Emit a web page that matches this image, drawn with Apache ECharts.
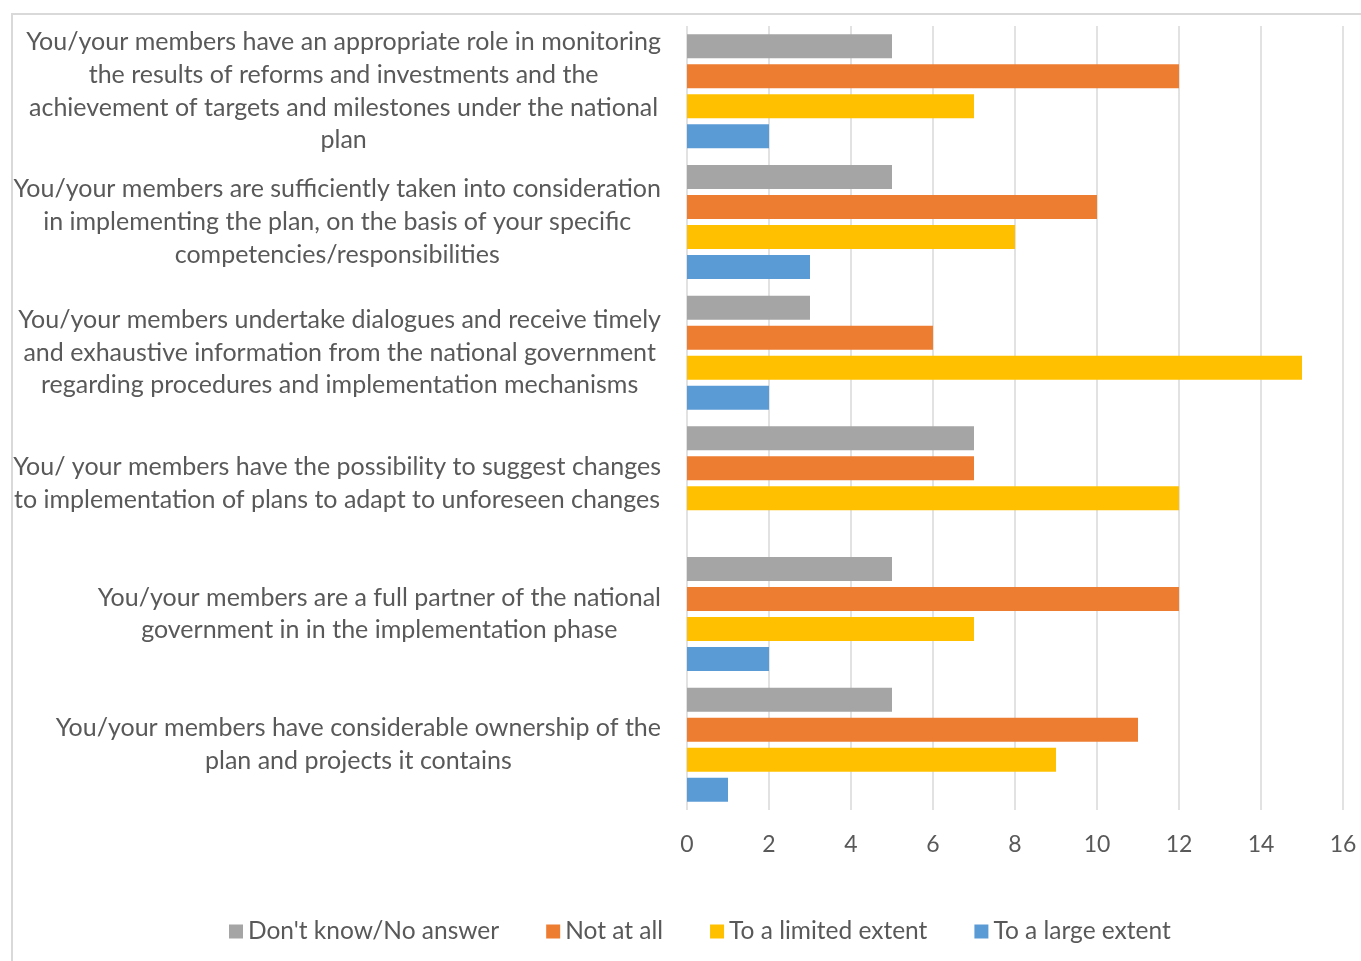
<!DOCTYPE html>
<html>
<head>
<meta charset="utf-8">
<script src="https://cdn.jsdelivr.net/npm/echarts@6/dist/echarts.min.js"></script>
<style>
html,body{margin:0;padding:0;background:#fff;}
#chart{width:1361px;height:961px;}
</style>
</head>
<body>
<div id="chart"></div>
<script>
const categories = [
  "You/your members have an appropriate role in monitoring\nthe results of reforms and investments and the\nachievement of targets and milestones under the national\nplan",
  "You/your members are sufficiently taken into consideration\nin implementing the plan, on the basis of your specific\ncompetencies/responsibilities",
  "You/your members undertake dialogues and receive timely\nand exhaustive information from the national government\nregarding procedures and implementation mechanisms",
  "You/ your members have the possibility to suggest changes\nto implementation of plans to adapt to unforeseen changes",
  "You/your members are a full partner of the national\ngovernment in in the implementation phase",
  "You/your members have considerable ownership of the\nplan and projects it contains"
];
const seriesNames = ["Don't know/No answer", "Not at all", "To a limited extent", "To a large extent"];
const dontKnow = [5, 5, 3, 7, 5, 5];
const notAtAll = [12, 10, 6, 7, 12, 11];
const limited = [7, 8, 15, 12, 7, 9];
const large = [2, 3, 2, 0, 2, 1];
const xTicks = [0, 2, 4, 6, 8, 10, 12, 14, 16];

const colors = ['#A5A5A5', '#ED7D31', '#FFC000', '#5B9BD5'];
const FONT = 'Lato';
const TXT = '#595959';
const seriesData = [dontKnow, notAtAll, limited, large];

const chart = echarts.init(document.getElementById('chart'));
chart.setOption({
  animation: false,
  color: colors,
  textStyle: {fontFamily: FONT, color: TXT},
  graphic: [{
    type: 'rect', silent: true, z: -10,
    shape: {x: 12, y: 14, width: 1400, height: 1000},
    style: {fill: 'none', stroke: '#d9d9d9', lineWidth: 2}
  }],
  grid: {left: 687, right: 18, top: 26, bottom: 151, containLabel: false},
  legend: {
    bottom: 12,
    left: 224,
    itemWidth: 14, itemHeight: 14, itemGap: 47,
    icon: 'rect',
    data: seriesNames,
    textStyle: {fontFamily: FONT, fontSize: 24.5, color: TXT}
  },
  xAxis: {
    type: 'value', min: xTicks[0], max: xTicks[xTicks.length - 1], interval: 2,
    axisLine: {show: false}, axisTick: {show: false},
    splitLine: {show: true, lineStyle: {color: '#d9d9d9', width: 1.5}},
    axisLabel: {fontFamily: FONT, fontSize: 23, color: TXT, margin: 23}
  },
  yAxis: {
    type: 'category', inverse: true, data: categories,
    axisLine: {show: false}, axisTick: {show: false},
    axisLabel: {
      margin: 26,
      formatter: function (v) {
        return v.split('\n').map(l => '{c|' + l + '}').join('\n');
      },
      rich: {c: {align: 'center', fontFamily: FONT, fontSize: 25, lineHeight: 32.7, color: TXT}}
    }
  },
  series: seriesNames.map((n, i) => ({
    name: n, type: 'bar', data: seriesData[i],
    barWidth: 24, barGap: '25%',
    itemStyle: {color: colors[i]}
  }))
});
</script>
</body>
</html>
